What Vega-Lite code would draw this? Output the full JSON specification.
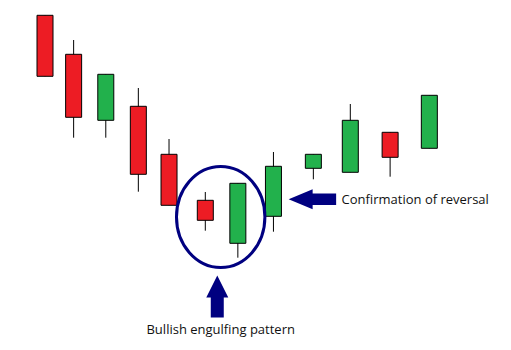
{
  "$schema": "https://vega.github.io/schema/vega-lite/v6.json",
  "width": 511,
  "height": 350,
  "padding": 0,
  "autosize": {"type": "fit", "contains": "padding"},
  "background": "white",
  "config": {"view": {"stroke": null}},
  "datasets": {
    "candles": [
      {"t": 4.08, "open": 33.47, "close": 27.37, "high": 33.47, "low": 27.37, "dir": "down"},
      {"t": 7.0, "open": 29.57, "close": 23.27, "high": 31.0, "low": 21.23, "dir": "down"},
      {"t": 10.28, "open": 22.97, "close": 27.57, "high": 27.57, "low": 21.23, "dir": "up"},
      {"t": 13.6, "open": 24.37, "close": 17.57, "high": 26.2, "low": 15.83, "dir": "down"},
      {"t": 16.73, "open": 19.57, "close": 14.47, "high": 21.1, "low": 14.47, "dir": "down"},
      {"t": 20.43, "open": 14.97, "close": 12.97, "high": 15.8, "low": 11.93, "dir": "down"},
      {"t": 23.75, "open": 10.67, "close": 16.67, "high": 16.67, "low": 9.23, "dir": "up"},
      {"t": 27.38, "open": 13.37, "close": 18.37, "high": 19.8, "low": 11.83, "dir": "up"},
      {"t": 31.45, "open": 18.17, "close": 19.57, "high": 19.57, "low": 17.07, "dir": "up"},
      {"t": 35.22, "open": 17.77, "close": 22.97, "high": 24.6, "low": 17.77, "dir": "up"},
      {"t": 39.28, "open": 21.77, "close": 19.27, "high": 21.77, "low": 17.33, "dir": "down"},
      {"t": 43.28, "open": 20.17, "close": 25.47, "high": 25.47, "low": 20.17, "dir": "up"}
    ],
    "notes": [
      {"kind": "ellipse", "t": 22.0, "p": 13.3, "label": ""},
      {"kind": "uparrow", "t": 21.65, "p": 7.45, "label": ""},
      {"kind": "leftarrow", "t": 28.93, "p": 15.07, "label": ""},
      {"kind": "text_center", "t": 22.0, "p": 1.6, "label": "Bullish engulfing pattern"},
      {"kind": "text_left", "t": 34.33, "p": 14.6, "label": "Confirmation of reversal"}
    ]
  },
  "encoding": {
    "x": {"field": "t", "type": "quantitative", "scale": {"domain": [0, 51.1], "nice": false, "zero": false}, "axis": null}
  },
  "layer": [
    {
      "data": {"name": "candles"},
      "mark": {"type": "rule", "color": "black", "strokeWidth": 1},
      "encoding": {
        "y": {"field": "low", "type": "quantitative", "scale": {"domain": [0, 35], "nice": false, "zero": false}, "axis": null},
        "y2": {"field": "high"}
      }
    },
    {
      "data": {"name": "candles"},
      "mark": {"type": "bar", "size": 16, "stroke": "black", "strokeWidth": 1, "fillOpacity": 1},
      "encoding": {
        "y": {"field": "open", "type": "quantitative", "axis": null},
        "y2": {"field": "close"},
        "fill": {"field": "dir", "type": "nominal", "scale": {"domain": ["up", "down"], "range": ["#22B14C", "#ED1C24"]}, "legend": null}
      }
    },
    {
      "data": {"name": "notes"},
      "transform": [{"filter": "datum.kind === 'ellipse'"}],
      "mark": {"type": "point", "shape": "M-44.2,0 A44.2,50.5 0 1,0 44.2,0 A44.2,50.5 0 1,0 -44.2,0", "size": 4, "filled": false, "stroke": "#000080", "strokeWidth": 3, "opacity": 1},
      "encoding": {"y": {"field": "p", "type": "quantitative"}}
    },
    {
      "data": {"name": "notes"},
      "transform": [{"filter": "datum.kind === 'uparrow'"}],
      "mark": {"type": "point", "shape": "M0,0 L11,22 L6.5,22 L6.5,42 L-6.5,42 L-6.5,22 L-11,22 Z", "size": 4, "filled": true, "fill": "#000080", "strokeWidth": 0, "opacity": 1},
      "encoding": {"y": {"field": "p", "type": "quantitative"}}
    },
    {
      "data": {"name": "notes"},
      "transform": [{"filter": "datum.kind === 'leftarrow'"}],
      "mark": {"type": "point", "shape": "M0,0 L24,-10 L24,-5.7 L47.5,-5.7 L47.5,5.7 L24,5.7 L24,10 Z", "size": 4, "filled": true, "fill": "#000080", "strokeWidth": 0, "opacity": 1},
      "encoding": {"y": {"field": "p", "type": "quantitative"}}
    },
    {
      "data": {"name": "notes"},
      "transform": [{"filter": "datum.kind === 'text_center'"}],
      "mark": {"type": "text", "align": "center", "baseline": "alphabetic", "font": "Open Sans", "fontSize": 13, "color": "#111111"},
      "encoding": {"y": {"field": "p", "type": "quantitative"}, "text": {"field": "label"}}
    },
    {
      "data": {"name": "notes"},
      "transform": [{"filter": "datum.kind === 'text_left'"}],
      "mark": {"type": "text", "align": "left", "baseline": "alphabetic", "font": "Open Sans", "fontSize": 13, "color": "#111111"},
      "encoding": {"y": {"field": "p", "type": "quantitative"}, "text": {"field": "label"}}
    }
  ]
}
